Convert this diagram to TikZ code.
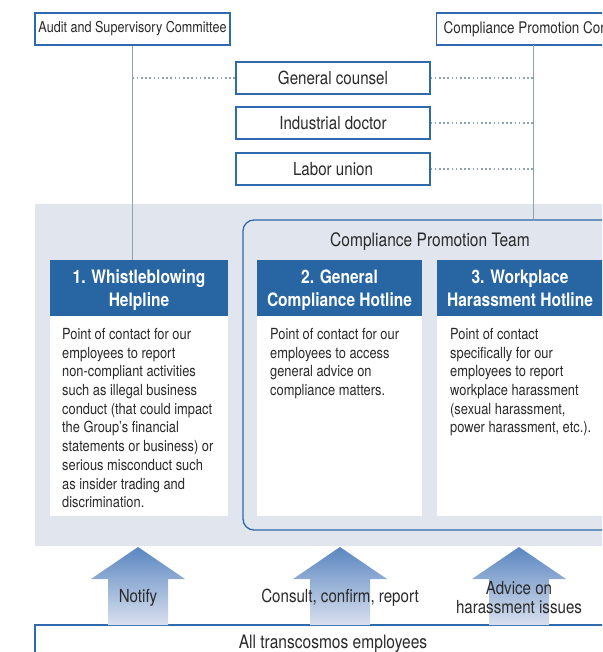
\documentclass[tikz,border=0pt]{standalone}
\usepackage{fontspec}
\setmainfont{TeX Gyre Heros}[FakeStretch=0.84]
\usetikzlibrary{positioning,calc}

\definecolor{boxblue}{HTML}{2E6AAD}
\definecolor{headblue}{HTML}{2866A3}
\definecolor{linegray}{HTML}{8FA3AE}
\definecolor{panelbg}{HTML}{E1E5EE}
\definecolor{inktext}{HTML}{2A2A2A}
\definecolor{arrowtop}{HTML}{5A86C0}
\definecolor{arrowbot}{HTML}{D9E0EE}

\begin{document}
\begin{tikzpicture}[x=1pt,y=-1pt,
      box/.style={draw=boxblue,line width=1.3pt,fill=white,inner sep=0pt,
        text=inktext,font=\fontsize{18}{20}\selectfont},
      topbox/.style={box,font=\fontsize{15}{18}\selectfont},
      head/.style={fill=headblue,text=white,inner sep=0pt,align=center,text depth=0pt,
        minimum height=56pt,font=\bfseries\fontsize{18.5}{23}\selectfont},
      body/.style={fill=white,inner sep=0pt,minimum height=200pt},
      txt/.style={anchor=north west,inner sep=0pt,align=left,text=inktext,
        font=\fontsize{15.3}{18.7}\selectfont},
      lbl/.style={text=inktext,align=center,font=\fontsize{18}{19}\selectfont},
      link/.style={linegray,line width=1.3pt},
      dots/.style={linegray,line width=1.6pt,dash pattern=on 1.6pt off 2.6pt}
    ]
      \useasboundingbox (0,0) rectangle (602,652);
      \clip (0,0) rectangle (602,652);
      % shaded panel behind the three desks
      \fill[panelbg] (35,204) rectangle (640,546);
      % top row
      \node[topbox,minimum width=195pt,minimum height=32pt] (audit) at (132.5,29) {Audit and Supervisory Committee};
      \node[topbox,font=\fontsize{16}{18}\selectfont,minimum height=32pt,inner xsep=7pt,anchor=west] (cpc) at (436,29) {Compliance Promotion Committee};
      \coordinate (cpcfoot) at (533.5,45);
      \node[box,minimum width=194pt,minimum height=32pt] (gc) at (333,78) {General counsel};
      \node[box,minimum width=194pt,minimum height=32pt] (doc) at (333,123) {Industrial doctor};
      \node[box,minimum width=194pt,minimum height=32pt] (union) at (333,169) {Labor union};
      % team frame
      \node[draw=boxblue,line width=1.3pt,rounded corners=11pt,minimum width=374pt,
        minimum height=310pt,inner sep=0pt] (team) at (430,375) {};
      \node[lbl,font=\fontsize{18.5}{20}\selectfont] (teamlbl) at (430,241.5) {Compliance Promotion Team};
      % desks
      \node[head,minimum width=178pt] (wh) at (139,288) {1. Whistleblowing\\Helpline};
      \node[head,minimum width=165pt] (gh) at (339.5,288) {2. General\\Compliance Hotline};
      \node[head,minimum width=166pt] (hh) at (520,288) {3. Workplace\\Harassment Hotline};
      \node[body,minimum width=178pt,below=0pt of wh] (whb) {};
      \node[body,minimum width=165pt,below=0pt of gh] (ghb) {};
      \node[body,minimum width=166pt,below=0pt of hh] (hhb) {};
      \node[txt] (wht) at (62,328) {Point of contact for our\\employees to report\\non-compliant activities\\such as illegal business\\conduct (that could impact\\the Group’s financial\\statements or business) or\\serious misconduct such\\as insider trading and\\discrimination.};
      \node[txt] (ght) at (270,328) {Point of contact for our\\employees to access\\general advice on\\compliance matters.};
      \node[txt] (hht) at (450,328) {Point of contact\\specifically for our\\employees to report\\workplace harassment\\(sexual harassment,\\power harassment, etc.).};
      % reporting lines
      \draw[link] (audit.south) -- (audit.south |- wh.north);
      \draw[link] (cpcfoot) -- (cpcfoot |- team.north);
      \draw[dots] (audit.south |- gc.west) -- (gc.west);
      \draw[dots] (gc.east) -- (cpcfoot |- gc.east);
      \draw[dots] (doc.east) -- (cpcfoot |- doc.east);
      \draw[dots] (union.east) -- (cpcfoot |- union.east);
      % employees and up arrows
      \node[box,minimum width=596pt,minimum height=32pt] (staff) at (333,641) {};
      \node[lbl,font=\fontsize{18.5}{20}\selectfont] (stafflbl) at (333,643.5) {All transcosmos employees};
      \foreach \x/\lab in {138/Notify,340/{Consult, confirm, report},519/{Advice on\\harassment issues}} {
        \shade[top color=arrowtop,bottom color=arrowbot]
          (\x,547) -- (\x+47,579) -- (\x+30,579) -- (\x+30,625) -- (\x-30,625) -- (\x-30,579) -- (\x-47,579) -- cycle;
        \node[lbl] at (\x,598) {\lab};
      }
\end{tikzpicture}
\end{document}
